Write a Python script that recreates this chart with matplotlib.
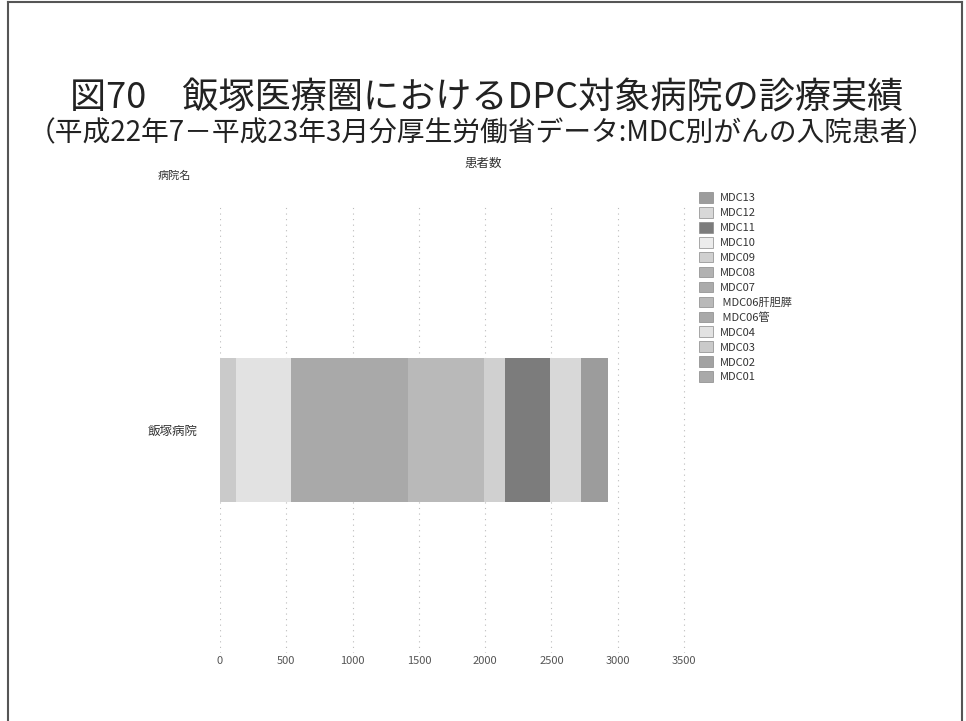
import matplotlib
matplotlib.use('Agg')
import matplotlib.pyplot as plt
from matplotlib.lines import Line2D
import numpy as np

plt.rcParams['font.family'] = ['Noto Sans CJK JP', 'DejaVu Sans']

# data (patients per MDC, 飯塚病院)
hospitals = ['飯塚病院']
mdc_labels = ['MDC01', 'MDC02', 'MDC03', 'MDC04', ' MDC06管', ' MDC06肝胆膵',
              'MDC07', 'MDC08', 'MDC09', 'MDC10', 'MDC11', 'MDC12', 'MDC13']
mdc_values = [0, 0, 121, 415, 881, 578, 0, 0, 152, 0, 342, 235, 205]
mdc_colors = ['#a9a9a9', '#a2a2a2', '#cacaca', '#e2e2e2', '#a9a9a9', '#b9b9b9',
              '#ababab', '#b2b2b2', '#d0d0d0', '#ececec', '#7c7c7c', '#d8d8d8', '#9c9c9c']
xticks = [0, 500, 1000, 1500, 2000, 2500, 3000, 3500]

W, H = 966, 721
fig = plt.figure(figsize=(W / 100, H / 100), dpi=100)
fig.patch.set_facecolor('white')

# plot area
ax = fig.add_axes([220 / W, 1 - 653 / H, (686 - 220) / W, (653 - 207) / H])
left = 0
handles = []
for lab, val, col in zip(mdc_labels, mdc_values, mdc_colors):
    b = ax.barh(0, val, left=left, height=0.325, color=col, edgecolor='none', label=lab)
    handles.append(b)
    left += val

ax.set_xlim(0, 3515)
ax.set_ylim(-0.5, 0.5)
ax.set_xticks(xticks)
ax.set_xticklabels([str(t) for t in xticks], fontsize=8, color='#555555')
ax.set_yticks([0])
ax.set_yticklabels(hospitals, fontsize=9, color='#333333')
ax.tick_params(length=0)
ax.tick_params(axis='y', pad=16)
ax.tick_params(axis='x', pad=2)
ax.xaxis.grid(True, linestyle=(0, (1, 4)), color='#bbbbbb', linewidth=0.8)
ax.set_axisbelow(True)
for s in ax.spines.values():
    s.set_visible(False)

# titles
fig.text(487 / W, 1 - 99 / H, '図70　飯塚医療圏におけるDPC対象病院の診療実績',
         ha='center', va='center', fontsize=26, color='#222222')
fig.text(482 / W, 1 - 133 / H, '（平成22年7－平成23年3月分厚生労働省データ:MDC別がんの入院患者）',
         ha='center', va='center', fontsize=20, color='#222222')
fig.text(483 / W, 1 - 163 / H, '患者数', ha='center', va='center', fontsize=9, color='#333333')
fig.text(174 / W, 1 - 176 / H, '病院名', ha='center', va='center', fontsize=8, color='#333333')

# legend (top entry = MDC13)
leg = fig.legend(handles[::-1], mdc_labels[::-1], loc='upper left',
                 bbox_to_anchor=(699 / W, 1 - 192 / H), frameon=False,
                 fontsize=8, handlelength=1.25, handleheight=1.1,
                 labelspacing=0.345, handletextpad=0.6, borderpad=0, borderaxespad=0)
for t in leg.get_texts():
    t.set_color('#333333')
for p in leg.get_patches():
    p.set_edgecolor('#888888')
    p.set_linewidth(0.5)

# page frame
fig.add_artist(Line2D([8 / W, 962 / W], [1 - 2 / H, 1 - 2 / H], color='#555555', lw=1.5))
fig.add_artist(Line2D([8 / W, 8 / W], [0, 1 - 2 / H], color='#555555', lw=1.5))
fig.add_artist(Line2D([962 / W, 962 / W], [0, 1 - 2 / H], color='#555555', lw=1.5))

fig.savefig('out.png', dpi=100)
